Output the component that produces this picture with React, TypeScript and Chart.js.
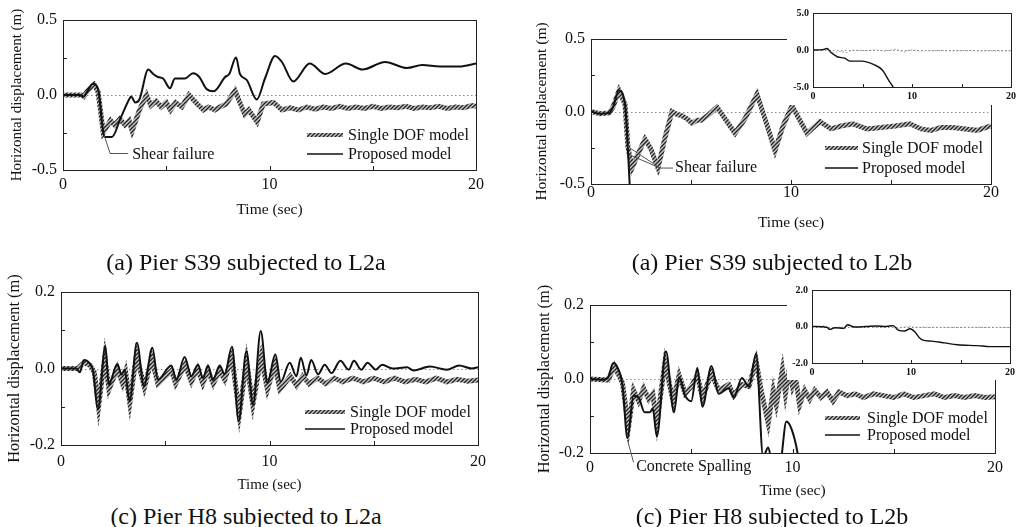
import React, { useEffect, useRef } from "react";
import { Chart, registerables } from "chart.js";
Chart.register(...registerables);

const FONT = "'Liberation Serif', 'Times New Roman', Times, serif";

// ---------------- DATA ----------------
// (a) Pier S39 subjected to L2a
const time1P = [0, 0.8, 1.0, 1.2, 1.45, 1.7, 1.95, 2.05, 2.37, 2.8, 3.24, 3.3, 3.5, 3.7, 4.13, 4.37, 4.6, 4.85, 5.18, 5.42, 5.9, 6.3, 6.6, 6.95, 7.3, 7.85, 8.05, 8.38, 8.57, 8.9, 9.38, 9.78, 10.27, 10.6, 11.15, 11.95, 12.7, 13.7, 14.5, 15.6, 16.65, 17.4, 18.25, 19.2, 20];
const disp1P = [0, 0, -0.01, 0.03, 0.075, 0.04, -0.25, -0.28, -0.28, -0.15, -0.02, -0.01, -0.05, -0.03, 0.17, 0.14, 0.12, 0.11, 0.045, 0.11, 0.11, 0.145, 0.12, 0.04, 0.025, 0.12, 0.14, 0.25, 0.14, 0.1, -0.03, 0.11, 0.26, 0.22, 0.09, 0.21, 0.14, 0.21, 0.17, 0.22, 0.18, 0.2, 0.19, 0.19, 0.21];
const time1S = [0, 0.9, 1.0, 1.2, 1.5, 1.7, 1.95, 2.3, 2.5, 2.75, 3.0, 3.2, 3.35, 3.7, 4.05, 4.25, 4.5, 4.75, 5.0, 5.2, 5.45, 5.75, 6.1, 6.5, 6.8, 7.05, 7.35, 7.6, 7.9, 8.33, 8.8, 9.0, 9.4, 9.7, 10.2, 10.6, 11.0, 11.4, 11.8, 12.2, 12.6, 13.0, 13.4, 13.8, 14.2, 14.6, 15.0, 15.4, 15.8, 16.2, 16.6, 17.0, 17.4, 17.8, 18.2, 18.6, 19.0, 19.4, 19.8, 20];
const disp1S = [0, 0, -0.01, 0.03, 0.07, 0.02, -0.25, -0.17, -0.2, -0.16, -0.2, -0.17, -0.24, -0.1, 0.0, -0.07, -0.04, -0.08, -0.05, -0.1, -0.05, -0.08, 0.0, -0.06, -0.1, -0.08, -0.1, -0.08, -0.06, 0.03, -0.13, -0.1, -0.18, -0.06, -0.05, -0.1, -0.085, -0.1, -0.08, -0.095, -0.08, -0.09, -0.075, -0.09, -0.08, -0.09, -0.075, -0.09, -0.08, -0.085, -0.075, -0.09, -0.08, -0.085, -0.075, -0.09, -0.08, -0.085, -0.07, -0.075];

// (a) Pier S39 subjected to L2b
const time2P = [0, 0.45, 0.9, 1.1, 1.4, 1.7, 1.97];
const disp2P = [0, -0.015, -0.01, 0.03, 0.145, 0.05, -0.6];
const time2S = [0, 0.45, 0.9, 1.1, 1.4, 1.7, 1.85, 2.05, 2.4, 2.7, 3.0, 3.35, 3.7, 4.05, 4.3, 4.55, 4.8, 5.05, 5.3, 5.5, 5.9, 6.3, 6.7, 7.2, 7.7, 8.3, 8.7, 9.2, 9.6, 10.05, 10.4, 10.8, 11.45, 12.0, 12.5, 13.1, 13.8, 14.5, 15.2, 15.95, 16.5, 17.0, 17.5, 18.1, 18.7, 19.3, 20];
const disp2S = [0, -0.015, -0.01, 0.03, 0.145, 0.05, -0.25, -0.39, -0.28, -0.19, -0.26, -0.39, -0.18, 0.0, -0.02, -0.03, -0.05, -0.08, -0.06, -0.06, -0.02, 0.03, -0.05, -0.15, -0.05, 0.12, -0.05, -0.27, -0.1, 0.04, -0.05, -0.15, -0.07, -0.12, -0.1, -0.085, -0.12, -0.11, -0.1, -0.085, -0.12, -0.13, -0.11, -0.11, -0.12, -0.13, -0.1];
const time2IP = [0, 1.0, 1.4, 1.8, 2.2, 2.5, 3.2, 3.7, 4.9, 6.2, 7.0, 7.65, 8.1, 8.3];
const disp2IP = [0, 0.05, 0.2, -0.3, -0.7, -0.95, -1.1, -1.5, -1.5, -2.0, -2.7, -4.1, -5.0, -5.5];

// (c) Pier H8 subjected to L2a
const time3P = [0, 0.73, 0.9, 1.1, 1.38, 1.54, 1.77, 2.13, 2.29, 2.7, 2.9, 3.05, 3.29, 3.64, 3.98, 4.38, 4.65, 5.29, 5.53, 5.93, 6.25, 6.57, 6.81, 7.05, 7.29, 7.61, 7.85, 8.2, 8.52, 8.89, 9.21, 9.58, 9.9, 10.28, 10.54, 10.97, 11.29, 11.5, 11.77, 12.0, 12.33, 12.65, 12.97, 13.4, 13.8, 14.05, 14.4, 14.7, 15.1, 15.4, 15.9, 16.6, 16.9, 17.7, 18.5, 19.1, 19.7, 20];
const disp3P = [0, 0, -0.01, 0.022, 0.013, -0.007, -0.107, 0.058, -0.042, 0.012, -0.016, -0.003, -0.086, 0.067, -0.046, 0.054, -0.029, 0.008, -0.03, 0.03, -0.02, 0.01, -0.025, 0.008, -0.03, 0.008, -0.015, 0.057, -0.138, 0.045, -0.095, 0.098, -0.038, 0.037, -0.035, 0.015, -0.02, 0.028, -0.018, 0.022, -0.015, 0.01, -0.012, 0.02, -0.003, 0.02, -0.003, 0.015, -0.003, 0.01, 0.0, 0.003, -0.005, 0.005, -0.003, 0.008, 0.0, 0.003];
const time3S = [0, 0.8, 1.1, 1.4, 1.6, 1.8, 2.1, 2.3, 2.7, 2.95, 3.1, 3.3, 3.62, 4.0, 4.35, 4.65, 5.3, 5.5, 5.95, 6.25, 6.55, 6.8, 7.05, 7.3, 7.6, 7.85, 8.2, 8.55, 8.9, 9.2, 9.6, 9.9, 10.25, 10.5, 11.0, 11.3, 11.6, 11.9, 12.3, 12.7, 13.1, 13.5, 14.0, 14.5, 15.0, 15.5, 16.0, 16.5, 17.0, 17.5, 18.0, 18.5, 19.0, 19.5, 20];
const disp3S = [0, 0, 0.015, 0.008, -0.01, -0.1, 0.03, -0.055, 0.0, -0.04, -0.01, -0.09, 0.035, -0.05, 0.025, -0.04, -0.005, -0.04, 0.01, -0.035, 0.0, -0.04, -0.005, -0.04, -0.005, -0.03, 0.03, -0.12, 0.02, -0.095, 0.03, -0.055, 0.01, -0.055, -0.02, -0.045, -0.02, -0.04, -0.025, -0.04, -0.025, -0.035, -0.025, -0.035, -0.025, -0.035, -0.025, -0.035, -0.028, -0.035, -0.025, -0.035, -0.028, -0.033, -0.03];

// (c) Pier H8 subjected to L2b
const time4P = [0, 0.65, 0.9, 1.15, 1.3, 1.6, 1.85, 2.15, 2.4, 2.7, 2.95, 3.1, 3.3, 3.75, 4.15, 4.4, 4.7, 5.0, 5.3, 5.55, 6.0, 6.35, 6.85, 7.1, 7.5, 7.85, 8.2, 8.55, 8.8, 9.0, 9.35, 9.7, 9.95, 10.25, 10.5];
const disp4P = [0, -0.002, 0.005, 0.043, 0.037, -0.015, -0.16, -0.045, -0.05, -0.09, -0.09, -0.08, -0.155, 0.075, -0.09, 0.005, -0.045, -0.06, 0.03, -0.075, 0.035, -0.04, -0.025, -0.05, 0.003, -0.02, 0.068, -0.21, -0.185, -0.23, -0.24, -0.115, -0.135, -0.2, -0.3];
const time4S = [0, 0.9, 1.2, 1.6, 1.9, 2.15, 2.4, 2.65, 2.9, 3.1, 3.3, 3.7, 4.1, 4.4, 4.7, 5.0, 5.3, 5.55, 6.0, 6.35, 6.85, 7.1, 7.5, 7.85, 8.2, 8.45, 8.8, 9.05, 9.2, 9.5, 9.65, 9.85, 10.0, 10.15, 10.35, 10.6, 10.85, 11.1, 11.4, 11.7, 12.0, 12.3, 12.7, 13.1, 13.5, 14.0, 14.5, 15.0, 15.5, 16.0, 16.5, 17.0, 17.5, 18.0, 18.5, 19.0, 19.5, 20];
const disp4S = [0, -0.003, 0.035, -0.01, -0.13, -0.03, -0.06, -0.025, -0.055, -0.04, -0.12, 0.045, -0.06, 0.01, -0.04, -0.02, 0.01, -0.05, 0.015, -0.03, -0.015, -0.045, -0.015, -0.02, 0.05, -0.03, -0.12, -0.03, -0.07, 0.025, -0.04, 0.03, -0.02, 0.005, -0.07, -0.03, -0.055, -0.03, -0.05, -0.035, -0.06, -0.035, -0.045, -0.04, -0.05, -0.04, -0.045, -0.05, -0.04, -0.05, -0.045, -0.04, -0.05, -0.045, -0.05, -0.045, -0.05, -0.048];
const time4IP = [0, 1.5, 1.8, 2.3, 3.2, 3.6, 4.3, 5.5, 6.5, 7.5, 8.2, 8.7, 9.35, 9.9, 10.4, 10.9, 11.2, 12.1, 13.4, 14.7, 16.7, 18.0, 20];
const disp4IP = [0, -0.05, -0.16, -0.07, -0.1, 0.1, -0.03, 0.0, 0.03, 0.0, 0.05, -0.2, -0.25, -0.12, -0.3, -0.65, -0.75, -0.8, -0.9, -1.0, -1.05, -1.1, -1.1];

// ticks and labels
const xTicks = [0, 10, 20];
const xMinor = [5, 10, 15];
const yTicksA = [-0.5, 0, 0.5];
const yMinorA = [-0.25, 0.25];
const yTicksC = [-0.2, 0, 0.2];
const yMinorC = [-0.1, 0.1];
const yTicksInsetA = [-5, 0, 5];
const yTicksInsetC = [-2, 0, 2];
const legendLabels = ["Single DOF model", "Proposed model"];
const captions = [
  "(a) Pier S39 subjected to L2a",
  "(a) Pier S39 subjected to L2b",
  "(c) Pier H8 subjected to L2a",
  "(c) Pier H8 subjected to L2b",
];
const xTitle = "Time (sec)";
const yTitle = "Horizontal displacement (m)";

// ---------------- helpers ----------------
function pts(t: number[], v: number[]) {
  return t.map((x, i) => ({ x, y: v[i] }));
}

let hatchCache: any = null;
function hatch() {
  if (hatchCache) return hatchCache;
  const c = document.createElement("canvas");
  c.width = 4;
  c.height = 4;
  const g = c.getContext("2d")!;
  g.fillStyle = "#c4c4c4";
  g.fillRect(0, 0, 4, 4);
  g.strokeStyle = "#222";
  g.lineWidth = 1.3;
  g.beginPath();
  g.moveTo(-1, 5);
  g.lineTo(5, -1);
  g.moveTo(-1, 1);
  g.lineTo(1, -1);
  g.moveTo(3, 5);
  g.lineTo(5, 3);
  g.stroke();
  hatchCache = g.createPattern(c, "repeat") || "#888";
  return hatchCache;
}

function proposedDs(t: number[], v: number[], w = 2) {
  return {
    label: legendLabels[1],
    data: pts(t, v),
    borderColor: "#111",
    borderWidth: w,
    pointRadius: 0,
    cubicInterpolationMode: "monotone",
    fill: false,
  };
}
function singleDs(t: number[], v: number[]) {
  return {
    label: legendLabels[0],
    data: pts(t, v),
    borderColor: hatch(),
    borderWidth: 5,
    pointRadius: 0,
    tension: 0,
    fill: false,
  };
}
function singleInsetDs(t: number[], v: number[]) {
  return {
    label: legendLabels[0],
    data: pts(t, v),
    borderColor: "#8a8a8a",
    borderWidth: 1,
    borderDash: [1.5, 2],
    pointRadius: 0,
    tension: 0,
    fill: false,
  };
}

type Note = { path: number[][]; text: string; at: number[] };
type Spec = {
  box: { x: number; y: number; w: number; h: number };
  area: { l: number; t: number; r: number; b: number };
  yTicks: number[];
  yMinor: number[];
  yDec: number;
  tickSize: number;
  tickBold?: boolean;
  xLabelY: number;
  yLabelPad: number;
  yTitle?: { size: number; cx: number };
  xTitle?: { size: number; cy: number };
  datasets: () => any[];
  legend?: { x1: number; x2: number; tx: number; y1: number; y2: number };
  notes?: Note[];
  inset?: boolean;
};

const framePlugin = {
  id: "frame",
  beforeDraw(chart: any, _a: any, opts: any) {
    if (opts.bg) {
      const c = chart.ctx;
      c.save();
      c.fillStyle = "#fff";
      c.fillRect(0, 0, chart.width, chart.height);
      c.restore();
    }
  },
  beforeDatasetsDraw(chart: any) {
    const { ctx, chartArea: ca, scales } = chart;
    const y0 = Math.round(scales.y.getPixelForValue(0)) + 0.5;
    ctx.save();
    ctx.strokeStyle = "#8c8c8c";
    ctx.lineWidth = 1;
    ctx.setLineDash([1.5, 2.5]);
    ctx.beginPath();
    ctx.moveTo(ca.left, y0);
    ctx.lineTo(ca.right, y0);
    ctx.stroke();
    ctx.restore();
  },
  afterDraw(chart: any, _a: any, opts: any) {
    const { ctx, chartArea: ca, scales } = chart;
    ctx.save();
    ctx.strokeStyle = "#222";
    ctx.lineWidth = 1;
    ctx.strokeRect(Math.round(ca.left) + 0.5, Math.round(ca.top) + 0.5, Math.round(ca.right - ca.left), Math.round(ca.bottom - ca.top));
    ctx.beginPath();
    const tl = opts.tick || 4;
    for (const v of xMinor) {
      const x = Math.round(scales.x.getPixelForValue(v)) + 0.5;
      ctx.moveTo(x, ca.bottom);
      ctx.lineTo(x, ca.bottom - tl);
    }
    for (const v of opts.yMinor || []) {
      const y = Math.round(scales.y.getPixelForValue(v)) + 0.5;
      ctx.moveTo(ca.left, y);
      ctx.lineTo(ca.left + tl, y);
    }
    ctx.stroke();
    ctx.restore();
  },
};

const decorPlugin = {
  id: "decor",
  afterDraw(chart: any, _a: any, opts: any) {
    const { ctx, chartArea: ca, scales } = chart;
    ctx.save();
    if (opts.legend) {
      const L = opts.legend;
      const ds = chart.data.datasets;
      const entries = [ds.find((d: any) => d.label === legendLabels[0]), ds.find((d: any) => d.label === legendLabels[1])];
      const ys = [L.y1, L.y2];
      entries.forEach((d: any, i: number) => {
        if (!d) return;
        const y = ca.bottom + ys[i];
        ctx.strokeStyle = d.borderColor;
        ctx.lineWidth = i === 0 ? 4 : 1.6;
        ctx.beginPath();
        ctx.moveTo(ca.right + L.x1, y);
        ctx.lineTo(ca.right + L.x2, y);
        ctx.stroke();
        ctx.fillStyle = "#111";
        ctx.font = `16px ${FONT}`;
        ctx.textBaseline = "middle";
        ctx.textAlign = "left";
        ctx.fillText(legendLabels[i], ca.right + L.tx, y + 1);
      });
    }
    for (const n of opts.notes || []) {
      ctx.strokeStyle = "#555";
      ctx.lineWidth = 1;
      ctx.beginPath();
      n.path.forEach((p: number[], i: number) => {
        const x = scales.x.getPixelForValue(p[0]);
        const y = scales.y.getPixelForValue(p[1]);
        if (i === 0 || p[2] === 1) ctx.moveTo(x, y);
        else ctx.lineTo(x, y);
      });
      ctx.stroke();
      ctx.fillStyle = "#111";
      ctx.font = `16px ${FONT}`;
      ctx.textBaseline = "middle";
      ctx.textAlign = "left";
      ctx.fillText(n.text, scales.x.getPixelForValue(n.at[0]), scales.y.getPixelForValue(n.at[1]));
    }
    ctx.restore();
  },
};

function Panel({ spec }: { spec: Spec }) {
  const ref = useRef<HTMLCanvasElement | null>(null);
  useEffect(() => {
    const { box, area } = spec;
    const yW = area.l - box.x;
    const xH = box.y + box.h - area.b;
    const tickFont = { family: FONT, size: spec.tickSize, weight: spec.tickBold ? "bold" : "normal" };
    const chart = new Chart(ref.current!, {
      type: "line",
      data: { datasets: spec.datasets() },
      plugins: [framePlugin, decorPlugin],
      options: {
        responsive: false,
        maintainAspectRatio: false,
        animation: false,
        events: [],
        layout: {
          autoPadding: false,
          padding: { left: 0, top: area.t - box.y, right: box.x + box.w - area.r, bottom: 0 },
        },
        plugins: {
          legend: { display: false },
          tooltip: { enabled: false },
          title: { display: false },
          frame: { bg: !!spec.inset, yMinor: spec.yMinor, tick: spec.inset ? 3 : 4 },
          decor: { legend: spec.legend, notes: spec.notes },
        } as any,
        scales: {
          x: {
            type: "linear",
            min: 0,
            max: 20,
            grid: { display: false, drawTicks: false },
            border: { display: false },
            afterBuildTicks: (s: any) => {
              s.ticks = xTicks.map((v) => ({ value: v }));
            },
            afterFit: (s: any) => {
              s.height = xH;
            },
            ticks: {
              autoSkip: false,
              maxRotation: 0,
              color: "#111",
              font: tickFont,
              padding: spec.xLabelY - area.b - 0.6 * spec.tickSize,
              callback: (v: any) => String(v),
            },
            title: spec.xTitle
              ? {
                  display: true,
                  text: xTitle,
                  color: "#111",
                  font: { family: FONT, size: spec.xTitle.size },
                  padding: { top: 0, bottom: box.y + box.h - spec.xTitle.cy - 0.6 * spec.xTitle.size },
                }
              : { display: false },
          },
          y: {
            type: "linear",
            min: spec.yTicks[0],
            max: spec.yTicks[spec.yTicks.length - 1],
            grid: { display: false, drawTicks: false },
            border: { display: false },
            afterBuildTicks: (s: any) => {
              s.ticks = spec.yTicks.map((v) => ({ value: v }));
            },
            afterFit: (s: any) => {
              s.width = yW;
            },
            ticks: {
              autoSkip: false,
              color: "#111",
              font: tickFont,
              padding: spec.yLabelPad,
              callback: (v: any) => Number(v).toFixed(spec.yDec),
            },
            title: spec.yTitle
              ? {
                  display: true,
                  text: yTitle,
                  color: "#111",
                  font: { family: FONT, size: spec.yTitle.size },
                  padding: { top: spec.yTitle.cx - box.x - 0.6 * spec.yTitle.size, bottom: 0 },
                }
              : { display: false },
          },
        },
      } as any,
    });
    return () => chart.destroy();
  }, [spec]);
  const { box } = spec;
  return (
    <canvas
      ref={ref}
      width={box.w}
      height={box.h}
      style={{ position: "absolute", left: box.x, top: box.y, width: box.w, height: box.h, background: spec.inset ? "#fff" : "transparent" }}
    />
  );
}

const specs: Spec[] = [
  {
    box: { x: 0, y: 0, w: 510, h: 228 },
    area: { l: 63, t: 20, r: 476, b: 170 },
    yTicks: yTicksA,
    yMinor: yMinorA,
    yDec: 1,
    tickSize: 16,
    xLabelY: 185,
    yLabelPad: 6,
    yTitle: { size: 15, cx: 17 },
    xTitle: { size: 15.5, cy: 210 },
    datasets: () => [proposedDs(time1P, disp1P), singleDs(time1S, disp1S)],
    legend: { x1: -169, x2: -133, tx: -128, y1: -35, y2: -16 },
    notes: [{ path: [[2.0, -0.27], [2.28, -0.39], [3.15, -0.39]], text: "Shear failure", at: [3.35, -0.4] }],
  },
  {
    box: { x: 520, y: 0, w: 499, h: 240 },
    area: { l: 591, t: 39, r: 991, b: 184 },
    yTicks: yTicksA,
    yMinor: yMinorA,
    yDec: 1,
    tickSize: 16,
    xLabelY: 193,
    yLabelPad: 6,
    yTitle: { size: 15.5, cx: 542 },
    xTitle: { size: 15.5, cy: 223 },
    datasets: () => [proposedDs(time2P, disp2P), singleDs(time2S, disp2S)],
    legend: { x1: -166, x2: -133, tx: -129, y1: -36, y2: -16 },
    notes: [
      { path: [[1.82, -0.24], [3.45, -0.39], [4.1, -0.39], [1.95, -0.3, 1], [3.45, -0.39]], text: "Shear failure", at: [4.2, -0.39] },
    ],
  },
  {
    box: { x: 0, y: 275, w: 510, h: 225 },
    area: { l: 61, t: 292, r: 478, b: 445 },
    yTicks: yTicksC,
    yMinor: yMinorC,
    yDec: 1,
    tickSize: 16,
    xLabelY: 462,
    yLabelPad: 6,
    yTitle: { size: 16.4, cx: 15 },
    xTitle: { size: 15, cy: 485 },
    datasets: () => [proposedDs(time3P, disp3P), singleDs(time3S, disp3S)],
    legend: { x1: -173, x2: -133, tx: -128, y1: -33, y2: -16 },
  },
  {
    box: { x: 520, y: 285, w: 499, h: 222 },
    area: { l: 590, t: 305, r: 995, b: 453 },
    yTicks: yTicksC,
    yMinor: yMinorC,
    yDec: 1,
    tickSize: 16,
    xLabelY: 468,
    yLabelPad: 6,
    yTitle: { size: 16.4, cx: 545 },
    xTitle: { size: 15.5, cy: 491 },
    datasets: () => [proposedDs(time4P, disp4P), singleDs(time4S, disp4S)],
    legend: { x1: -170, x2: -135, tx: -128, y1: -35, y2: -18 },
    notes: [{ path: [[1.85, -0.165], [2.15, -0.225]], text: "Concrete Spalling", at: [2.28, -0.238] }],
  },
  {
    box: { x: 787, y: 3, w: 232, h: 102 },
    area: { l: 813, t: 13, r: 1014, b: 87 },
    yTicks: yTicksInsetA,
    yMinor: [],
    yDec: 1,
    tickSize: 10,
    tickBold: true,
    xLabelY: 96,
    yLabelPad: 4,
    inset: true,
    datasets: () => [proposedDs(time2IP, disp2IP, 1.4), singleInsetDs(time2S, disp2S)],
  },
  {
    box: { x: 787, y: 280, w: 232, h: 100 },
    area: { l: 812, t: 289, r: 1010, b: 363 },
    yTicks: yTicksInsetC,
    yMinor: [],
    yDec: 1,
    tickSize: 10,
    tickBold: true,
    xLabelY: 372,
    yLabelPad: 4,
    inset: true,
    datasets: () => [proposedDs(time4IP, disp4IP, 1.4), singleInsetDs(time4S, disp4S)],
  },
];

const captionPos = [
  { cx: 246, cy: 262 },
  { cx: 772, cy: 262 },
  { cx: 246, cy: 516 },
  { cx: 772, cy: 516 },
];

export default function App() {
  return (
    <div style={{ position: "absolute", left: 0, top: 0, width: 1019, height: 527, background: "#fff", overflow: "hidden" }}>
      {specs.map((s, i) => (
        <Panel key={i} spec={s} />
      ))}
      {captions.map((c, i) => (
        <div
          key={"c" + i}
          style={{
            position: "absolute",
            left: captionPos[i].cx,
            top: captionPos[i].cy,
            transform: "translate(-50%, -50%)",
            font: `24px ${FONT}`,
            color: "#111",
            whiteSpace: "nowrap",
            lineHeight: "28px",
          }}
        >
          {c}
        </div>
      ))}
    </div>
  );
}
